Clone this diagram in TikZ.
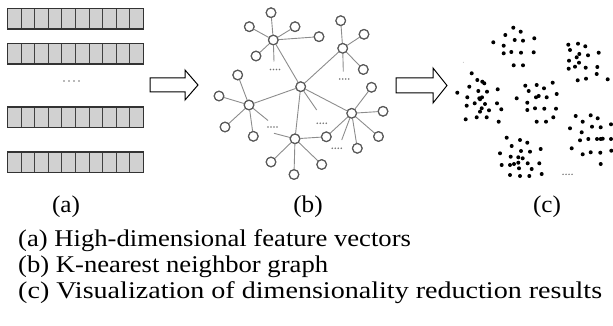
\documentclass[tikz,border=0pt]{standalone}
\usepackage{graphicx}
\usepackage{fontspec}
\setmainfont{Liberation Serif}
\begin{document}
\begin{tikzpicture}[x=1pt,y=-1pt,
  cellbox/.style={draw=black!75,fill=black!18,line width=0.9pt},
  gnode/.style={circle,draw=black!65,fill=white,line width=1.1pt,minimum size=9.5pt,inner sep=0pt},
  gring/.style={draw=black!65,fill=white,line width=1.2pt},
  gedge/.style={draw=black!45,line width=0.9pt},
  bigarrow/.style={draw=black,fill=white,line width=1pt,line join=miter},
  cdot/.style={fill=black},
  tdot/.style={fill=black!55},
  lbl/.style={font=\fontsize{24}{26}\selectfont,inner sep=0pt},
]
\useasboundingbox (0,0) rectangle (613,326);
% ---------- (a) feature vectors
\foreach \y in {8.5,43.5,107,152}{
  \foreach \i in {0,...,9}{
    \draw[cellbox] (7.5+13.6*\i,\y) rectangle ++(13.6,20.5);
  }
  \draw[black!80,line width=1.3pt] (7.5,\y) rectangle ++(136,20.5);
}
\foreach \x in {64,69,74,79}{\fill[tdot] (\x,81) circle (0.9);}
% ---------- arrows
\draw[bigarrow] (150,78) -- (185,78) -- (185,70) -- (198,85) -- (185,100) -- (185,92) -- (150,92) -- cycle;
\draw[bigarrow] (396,78) -- (433,78) -- (433,68) -- (447,85.5) -- (433,103) -- (433,93) -- (396,93) -- cycle;
% ---------- (b) graph
\coordinate (e1) at (274,61.5);
\coordinate (e2) at (343.3,71.5);
\coordinate (e3) at (316.7,110);
\coordinate (e4) at (268,120.5);
\coordinate (e5) at (274,133.3);
\coordinate (e6) at (341.7,140);
\node[gnode] (C) at (300.7,86.7) {};
\node[gnode] (H1) at (273.3,40) {};
\node[gnode] (H2) at (342.7,48.3) {};
\node[gnode] (H3) at (249,105) {};
\node[gnode] (H4) at (351.7,113.3) {};
\node[gnode] (H5) at (295,138.8) {};
\node[gnode] (a1) at (271,12.7) {};
\node[gnode] (a2) at (249.3,26.7) {};
\node[gnode] (a3) at (295,26.7) {};
\node[gnode] (a4) at (256,56) {};
\node[gnode] (m1) at (319,36.7) {};
\node[gnode] (b1) at (340.7,20.7) {};
\node[gnode] (b2) at (364,34.3) {};
\node[gnode] (b3) at (363.3,69.5) {};
\node[gnode] (c1) at (237.7,75) {};
\node[gnode] (c2) at (219,96) {};
\node[gnode] (c3) at (225,127) {};
\node[gnode] (c4) at (253.3,136.3) {};
\node[gnode] (d1) at (371.5,87.3) {};
\node[gnode] (d2) at (383,111.3) {};
\node[gnode] (d3) at (378.5,136.5) {};
\node[gnode] (d4) at (357.3,148.3) {};
\node[gnode] (m2) at (326.3,136.8) {};
\node[gnode] (f1) at (271,162) {};
\node[gnode] (f2) at (294,174.5) {};
\node[gnode] (f3) at (321.7,164.5) {};
\foreach \s/\t in {H1/a1,H1/a2,H1/a3,H1/a4,H1/m1,H1/e1,H1/C,
  H2/b1,H2/b2,H2/b3,H2/e2,H2/C,C/H3,C/H4,C/H5,C/e3,
  H3/c1,H3/c2,H3/c3,H3/c4,H3/e4,H5/e5,
  H4/d1,H4/d2,H4/d3,H4/d4,H4/m2,H5/m2,H4/e6,
  H5/f1,H5/f2,H5/f3}{
  \draw[gedge] (\s) -- (\t);
}
% redraw node rings over edges
\foreach \n in {C,H1,H2,H3,H4,H5,a1,a2,a3,a4,m1,b1,b2,b3,c1,c2,c3,c4,d1,d2,d3,d4,m2,f1,f2,f3}{
  \draw[gring] (\n.center) circle (4.8);
}
\foreach \cx/\cy in {275/69.5,344.3/79,321.7/123.3,272.5/127,336.7/148.3}{
  \foreach \k in {-4.5,-1.5,1.5,4.5}{\fill[tdot] (\cx+\k,\cy) circle (0.85);}
}
% ---------- (c) clusters
\foreach \x/\y in {513.3/27.7,520.7/31.7,505.3/35,514.7/40,523/40.7,534.3/38.3,493.3/42.3,503.7/45.7,503.7/53.3,511.3/52,521/52.7,533.7/52.3,513.7/65.3,523/65.3,
568.3/44.7,578/43.7,585.3/46.3,570/50,579.3/54,576.7/57.3,588/55.3,598.7/52.7,569/60.7,579/62.7,575/66.7,585.7/67.7,597.3/67,568.7/68.7,596.7/74,577.7/80.3,586/78.7,607.7/79.3,
471.7/73.3,477.3/80,482.3/81.7,484.3/83.3,469.3/86.7,478.3/91,487/91.7,497.7/89.3,457.3/92.7,467.3/97.3,479.3/98.3,482/97.3,480/99.3,474.7/103.3,485/104,497/103.3,466.7/105.7,481.7/108.3,489/110.3,501.3/109.3,480/111.7,465.7/119.3,476.7/117.3,486.7/117.3,498.7/121.7,
525.3/85.7,536.7/85,552.7/82.7,544/88.3,528.7/91,556.7/94,536/97.3,538.7/96,516.7/98.3,546.7/97.3,527.3/102.7,535/108.3,544.3/108.7,527.3/110,556/108.7,536.7/121.7,546/121.7,553.3/117.3,
575.7/116,582.7/121.7,590.7/115.3,597.7/118.3,611/124.3,570/128.3,592/126.7,600.7/127.3,581.7/132.3,580/140.3,588.3/139,597/139,600.7/139,602.7/138.7,611/139,571.7/148.3,582.7/154.3,590.7/152.3,600.3/152.7,611.3/150.7,600.7/164,
506.7/137.7,520/140,527.3/142.7,511.7/146,500/153.3,521/151,530/151.7,540.7/149,510.7/156.7,518.3/157.3,522.7/158.3,514/164,501.7/165,510/165,518.3/162.7,527.7/163.3,539.3/163.3,519/168.3,531.7/169,510/175,520/176,529.3/176,541.7/174}{
  \fill[cdot] (\x,\y) circle (2.0);
}
\fill[black!30] (463.3,62.3) circle (0.5);
\foreach \k in {-4.5,-1.5,1.5,4.5}{\fill[tdot] (567.5+\k,174.3) circle (0.8);}
% ---------- labels
\node[lbl,anchor=base] (la) at (66,212) {\scalebox{1.05}[1]{(a)}};
\node[lbl,anchor=base] (lb) at (308,212) {\scalebox{1.05}[1]{(b)}};
\node[lbl,anchor=base] (lc) at (547,212) {\scalebox{1.05}[1]{(c)}};
\node[lbl,anchor=base west] (t1) at (18,246) {\scalebox{1.11}[1]{(a) High-dimensional feature vectors}};
\node[lbl,anchor=base west] (t2) at (18,272) {\scalebox{1.11}[1]{(b) K-nearest neighbor graph}};
\node[lbl,anchor=base west] (t3) at (18,298) {\scalebox{1.17}[1]{(c) Visualization of dimensionality reduction results}};
\end{tikzpicture}
\end{document}
